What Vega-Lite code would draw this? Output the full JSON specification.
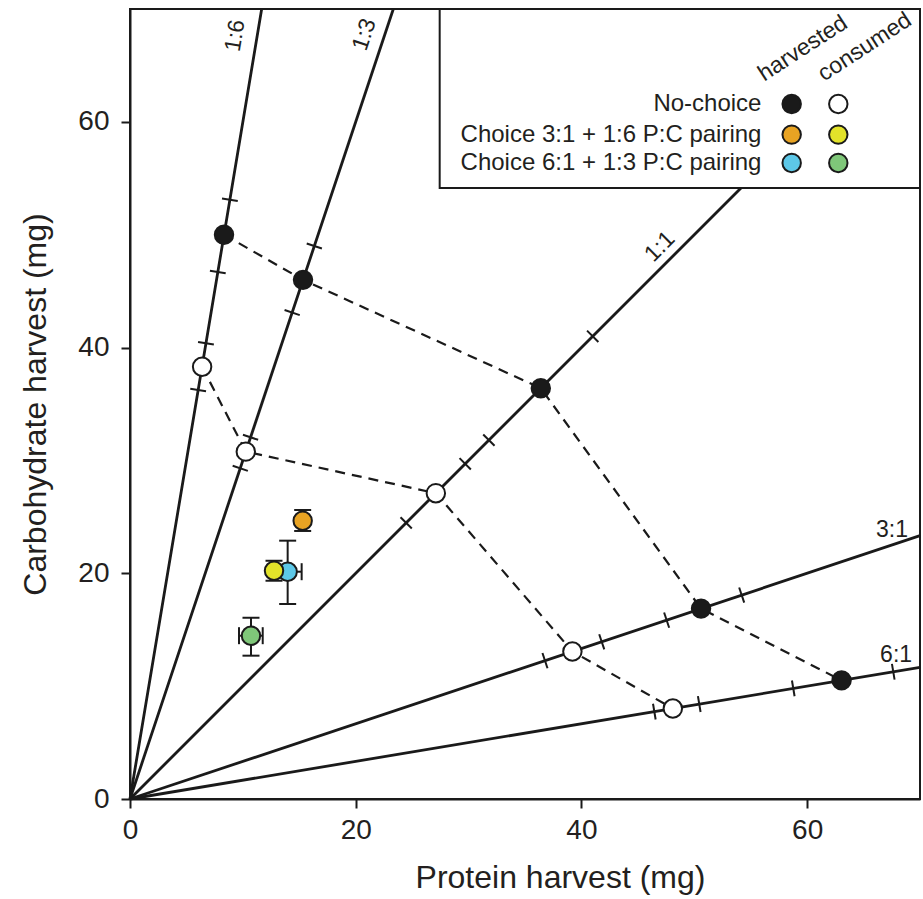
{
  "$schema": "https://vega.github.io/schema/vega-lite/v6.json",
  "width": 790,
  "height": 790,
  "autosize": {"type": "none"},
  "padding": {"left": 130, "top": 9, "right": 3, "bottom": 100},
  "background": "white",
  "config": {
    "view": {"stroke": "#1a1a1a", "strokeWidth": 2},
    "font": "Liberation Sans",
    "axis": {
      "grid": false,
      "tickCount": 4,
      "domainColor": "#1a1a1a",
      "domainWidth": 2,
      "tickColor": "#1a1a1a",
      "tickWidth": 2,
      "tickSize": 9,
      "labelFont": "Liberation Sans",
      "labelFontSize": 28,
      "labelColor": "#231f20",
      "labelFlush": false,
      "labelOverlap": false,
      "titleFont": "Liberation Sans",
      "titleFontSize": 32,
      "titleFontWeight": "normal",
      "titleColor": "#231f20"
    },
    "axisX": {"labelPadding": 8, "titlePadding": 18, "titleX": 430},
    "axisY": {"labelPadding": 12, "titlePadding": 25}
  },
  "datasets": {
    "lines": [
      {"line": "1:6", "x0": 0, "y0": 0, "x1": 11.667, "y1": 70},
      {"line": "1:3", "x0": 0, "y0": 0, "x1": 23.333, "y1": 70},
      {"line": "1:1", "x0": 0, "y0": 0, "x1": 70, "y1": 70},
      {"line": "3:1", "x0": 0, "y0": 0, "x1": 70, "y1": 23.333},
      {"line": "6:1", "x0": 0, "y0": 0, "x1": 70, "y1": 11.667}
    ],
    "main": [
      {"series": "NC-h", "kind": "harvested", "line": "1:6", "seq": 1, "P": 8.33, "C": 50.0, "Plo": 7.78, "Clo": 46.7, "Phi": 8.85, "Chi": 53.1},
      {"series": "NC-h", "kind": "harvested", "line": "1:3", "seq": 2, "P": 15.33, "C": 46.0, "Plo": 14.37, "Clo": 43.1, "Phi": 16.33, "Chi": 49.0},
      {"series": "NC-h", "kind": "harvested", "line": "1:1", "seq": 3, "P": 36.4, "C": 36.4, "Plo": 31.8, "Clo": 31.8, "Phi": 41.0, "Chi": 41.0},
      {"series": "NC-h", "kind": "harvested", "line": "3:1", "seq": 4, "P": 50.6, "C": 16.87, "Plo": 47.55, "Clo": 15.85, "Phi": 54.2, "Chi": 18.07},
      {"series": "NC-h", "kind": "harvested", "line": "6:1", "seq": 5, "P": 63.05, "C": 10.51, "Plo": 58.77, "Clo": 9.8, "Phi": 67.63, "Chi": 11.27},
      {"series": "NC-c", "kind": "consumed", "line": "1:6", "seq": 1, "P": 6.39, "C": 38.3, "Plo": 6.04, "Clo": 36.24, "Phi": 6.73, "Chi": 40.38},
      {"series": "NC-c", "kind": "consumed", "line": "1:3", "seq": 2, "P": 10.26, "C": 30.78, "Plo": 9.77, "Clo": 29.3, "Phi": 10.68, "Chi": 32.05},
      {"series": "NC-c", "kind": "consumed", "line": "1:1", "seq": 3, "P": 27.1, "C": 27.1, "Plo": 24.47, "Clo": 24.47, "Phi": 29.7, "Chi": 29.7},
      {"series": "NC-c", "kind": "consumed", "line": "3:1", "seq": 4, "P": 39.2, "C": 13.07, "Plo": 36.77, "Clo": 12.26, "Phi": 41.8, "Chi": 13.93},
      {"series": "NC-c", "kind": "consumed", "line": "6:1", "seq": 5, "P": 48.1, "C": 8.02, "Plo": 46.46, "Clo": 7.74, "Phi": 50.44, "Chi": 8.41}
    ],
    "choice": [
      {"series": "C31-h", "P": 15.3, "C": 24.66, "Clo": 23.75, "Chi": 25.61, "Plo": null, "Phi": null},
      {"series": "C61-h", "P": 13.97, "C": 20.14, "Clo": 17.28, "Chi": 22.89, "Plo": 12.73, "Phi": 15.21},
      {"series": "C31-c", "P": 12.76, "C": 20.23, "Clo": 19.34, "Chi": 21.11, "Plo": null, "Phi": null},
      {"series": "C61-c", "P": 10.72, "C": 14.47, "Clo": 12.7, "Chi": 16.06, "Plo": 9.66, "Phi": 11.76}
    ],
    "ratioLabels": [
      {"lbl": "1:6", "lx": 9.32, "ly": 67.64},
      {"lbl": "1:3", "lx": 20.76, "ly": 67.73},
      {"lbl": "1:1", "lx": 46.94, "ly": 48.94},
      {"lbl": "3:1", "lx": 67.52, "ly": 23.85},
      {"lbl": "6:1", "lx": 67.88, "ly": 12.77}
    ],
    "legendBox": [{"bx": 27.44, "bx2": 70, "by": 54.14, "by2": 70}],
    "legendText": [
      {"label": "No-choice", "lx": 55.95, "ly": 61.58},
      {"label": "Choice 3:1 + 1:6 P:C pairing", "lx": 55.95, "ly": 58.87},
      {"label": "Choice 6:1 + 1:3 P:C pairing", "lx": 55.95, "ly": 56.36}
    ],
    "legendPts": [
      {"series": "NC-h", "lx": 58.63, "ly": 61.58},
      {"series": "NC-c", "lx": 62.76, "ly": 61.58},
      {"series": "C31-h", "lx": 58.63, "ly": 58.87},
      {"series": "C31-c", "lx": 62.76, "ly": 58.87},
      {"series": "C61-h", "lx": 58.63, "ly": 56.36},
      {"series": "C61-c", "lx": 62.76, "ly": 56.36}
    ],
    "legendHead": [
      {"head": "harvested", "lx": 56.2, "ly": 63.56},
      {"head": "consumed", "lx": 61.5, "ly": 63.56}
    ]
  },
  "layer": [
    {
      "data": {"name": "lines"},
      "mark": {"type": "rule", "color": "#1a1a1a", "strokeWidth": 2.8},
      "encoding": {
        "x": {"field": "x0", "type": "quantitative", "scale": {"domain": [0, 70], "nice": false, "zero": true}, "title": "Protein harvest (mg)"},
        "y": {"field": "y0", "type": "quantitative", "scale": {"domain": [0, 70], "nice": false, "zero": true}, "title": "Carbohydrate harvest (mg)"},
        "x2": {"field": "x1"},
        "y2": {"field": "y1"}
      }
    },
    {
      "data": {"name": "main"},
      "mark": {"type": "line", "color": "#1a1a1a", "strokeWidth": 2.2, "strokeDash": [10, 7]},
      "encoding": {
        "x": {"field": "P", "type": "quantitative", "title": "Protein harvest (mg)"},
        "y": {"field": "C", "type": "quantitative", "title": "Carbohydrate harvest (mg)"},
        "detail": {"field": "kind"},
        "order": {"field": "seq", "type": "quantitative"}
      }
    },
    {
      "data": {"name": "main"},
      "mark": {"type": "point", "size": 256, "filled": false, "stroke": "#1a1a1a", "strokeWidth": 2, "opacity": 1},
      "encoding": {
        "x": {"field": "Plo", "type": "quantitative", "title": "Protein harvest (mg)"},
        "y": {"field": "Clo", "type": "quantitative", "title": "Carbohydrate harvest (mg)"},
        "shape": {"field": "line", "type": "nominal", "legend": null, "scale": {"domain": ["1:6", "1:3", "1:1", "3:1", "6:1"], "range": ["M-0.986,-0.164L0.986,0.164", "M-0.949,-0.316L0.949,0.316", "M-0.707,-0.707L0.707,0.707", "M-0.316,-0.949L0.316,0.949", "M-0.164,-0.986L0.164,0.986"]}}
      }
    },
    {
      "data": {"name": "main"},
      "mark": {"type": "point", "size": 256, "filled": false, "stroke": "#1a1a1a", "strokeWidth": 2, "opacity": 1},
      "encoding": {
        "x": {"field": "Phi", "type": "quantitative", "title": "Protein harvest (mg)"},
        "y": {"field": "Chi", "type": "quantitative", "title": "Carbohydrate harvest (mg)"},
        "shape": {"field": "line", "type": "nominal", "legend": null}
      }
    },
    {
      "data": {"name": "legendBox"},
      "mark": {"type": "rect", "fill": "white", "stroke": "#1a1a1a", "strokeWidth": 2},
      "encoding": {
        "x": {"field": "bx", "type": "quantitative", "title": "Protein harvest (mg)"},
        "x2": {"field": "bx2"},
        "y": {"field": "by", "type": "quantitative", "title": "Carbohydrate harvest (mg)"},
        "y2": {"field": "by2"}
      }
    },
    {
      "data": {"name": "choice"},
      "mark": {"type": "rule", "color": "#1a1a1a", "strokeWidth": 2},
      "encoding": {
        "x": {"field": "P", "type": "quantitative", "title": "Protein harvest (mg)"},
        "y": {"field": "Clo", "type": "quantitative", "title": "Carbohydrate harvest (mg)"},
        "y2": {"field": "Chi"}
      }
    },
    {
      "data": {"name": "choice"},
      "mark": {"type": "rule", "color": "#1a1a1a", "strokeWidth": 2},
      "encoding": {
        "x": {"field": "Plo", "type": "quantitative", "title": "Protein harvest (mg)"},
        "x2": {"field": "Phi"},
        "y": {"field": "C", "type": "quantitative", "title": "Carbohydrate harvest (mg)"}
      }
    },
    {
      "data": {"name": "choice"},
      "mark": {"type": "point", "shape": "M-1,0L1,0", "size": 289, "filled": false, "stroke": "#1a1a1a", "strokeWidth": 2, "opacity": 1},
      "encoding": {
        "x": {"field": "P", "type": "quantitative", "title": "Protein harvest (mg)"},
        "y": {"field": "Clo", "type": "quantitative", "title": "Carbohydrate harvest (mg)"}
      }
    },
    {
      "data": {"name": "choice"},
      "mark": {"type": "point", "shape": "M-1,0L1,0", "size": 289, "filled": false, "stroke": "#1a1a1a", "strokeWidth": 2, "opacity": 1},
      "encoding": {
        "x": {"field": "P", "type": "quantitative", "title": "Protein harvest (mg)"},
        "y": {"field": "Chi", "type": "quantitative", "title": "Carbohydrate harvest (mg)"}
      }
    },
    {
      "data": {"name": "choice"},
      "mark": {"type": "point", "shape": "M0,-1L0,1", "size": 289, "filled": false, "stroke": "#1a1a1a", "strokeWidth": 2, "opacity": 1},
      "encoding": {
        "x": {"field": "Plo", "type": "quantitative", "title": "Protein harvest (mg)"},
        "y": {"field": "C", "type": "quantitative", "title": "Carbohydrate harvest (mg)"}
      }
    },
    {
      "data": {"name": "choice"},
      "mark": {"type": "point", "shape": "M0,-1L0,1", "size": 289, "filled": false, "stroke": "#1a1a1a", "strokeWidth": 2, "opacity": 1},
      "encoding": {
        "x": {"field": "Phi", "type": "quantitative", "title": "Protein harvest (mg)"},
        "y": {"field": "C", "type": "quantitative", "title": "Carbohydrate harvest (mg)"}
      }
    },
    {
      "data": {"name": "main"},
      "mark": {"type": "circle", "size": 340, "stroke": "#1a1a1a", "strokeWidth": 2, "opacity": 1},
      "encoding": {
        "x": {"field": "P", "type": "quantitative", "title": "Protein harvest (mg)"},
        "y": {"field": "C", "type": "quantitative", "title": "Carbohydrate harvest (mg)"},
        "fill": {"field": "series", "type": "nominal", "legend": null, "scale": {"domain": ["NC-h", "NC-c", "C31-h", "C31-c", "C61-h", "C61-c"], "range": ["#1a1a1a", "#ffffff", "#E8A323", "#E3E32A", "#5DC8E8", "#7FC779"]}}
      }
    },
    {
      "data": {"name": "choice"},
      "mark": {"type": "circle", "size": 340, "stroke": "#1a1a1a", "strokeWidth": 2, "opacity": 1},
      "encoding": {
        "x": {"field": "P", "type": "quantitative", "title": "Protein harvest (mg)"},
        "y": {"field": "C", "type": "quantitative", "title": "Carbohydrate harvest (mg)"},
        "fill": {"field": "series", "type": "nominal", "legend": null}
      }
    },
    {
      "data": {"name": "ratioLabels"},
      "transform": [{"filter": "datum.lbl == '1:6'"}],
      "mark": {"type": "text", "font": "Liberation Sans", "fontSize": 23, "color": "#231f20", "align": "center", "baseline": "middle", "angle": 279.5},
      "encoding": {
        "x": {"field": "lx", "type": "quantitative", "title": "Protein harvest (mg)"},
        "y": {"field": "ly", "type": "quantitative", "title": "Carbohydrate harvest (mg)"},
        "text": {"field": "lbl"}
      }
    },
    {
      "data": {"name": "ratioLabels"},
      "transform": [{"filter": "datum.lbl == '1:3'"}],
      "mark": {"type": "text", "font": "Liberation Sans", "fontSize": 23, "color": "#231f20", "align": "center", "baseline": "middle", "angle": 288.4},
      "encoding": {
        "x": {"field": "lx", "type": "quantitative", "title": "Protein harvest (mg)"},
        "y": {"field": "ly", "type": "quantitative", "title": "Carbohydrate harvest (mg)"},
        "text": {"field": "lbl"}
      }
    },
    {
      "data": {"name": "ratioLabels"},
      "transform": [{"filter": "datum.lbl == '1:1'"}],
      "mark": {"type": "text", "font": "Liberation Sans", "fontSize": 23, "color": "#231f20", "align": "center", "baseline": "middle", "angle": 315},
      "encoding": {
        "x": {"field": "lx", "type": "quantitative", "title": "Protein harvest (mg)"},
        "y": {"field": "ly", "type": "quantitative", "title": "Carbohydrate harvest (mg)"},
        "text": {"field": "lbl"}
      }
    },
    {
      "data": {"name": "ratioLabels"},
      "transform": [{"filter": "datum.lbl == '3:1' || datum.lbl == '6:1'"}],
      "mark": {"type": "text", "font": "Liberation Sans", "fontSize": 23, "color": "#231f20", "align": "center", "baseline": "middle", "angle": 0},
      "encoding": {
        "x": {"field": "lx", "type": "quantitative", "title": "Protein harvest (mg)"},
        "y": {"field": "ly", "type": "quantitative", "title": "Carbohydrate harvest (mg)"},
        "text": {"field": "lbl"}
      }
    },
    {
      "data": {"name": "legendText"},
      "mark": {"type": "text", "font": "Liberation Sans", "fontSize": 24, "color": "#231f20", "align": "right", "baseline": "middle"},
      "encoding": {
        "x": {"field": "lx", "type": "quantitative", "title": "Protein harvest (mg)"},
        "y": {"field": "ly", "type": "quantitative", "title": "Carbohydrate harvest (mg)"},
        "text": {"field": "label"}
      }
    },
    {
      "data": {"name": "legendPts"},
      "mark": {"type": "circle", "size": 340, "stroke": "#1a1a1a", "strokeWidth": 2, "opacity": 1},
      "encoding": {
        "x": {"field": "lx", "type": "quantitative", "title": "Protein harvest (mg)"},
        "y": {"field": "ly", "type": "quantitative", "title": "Carbohydrate harvest (mg)"},
        "fill": {"field": "series", "type": "nominal", "legend": null}
      }
    },
    {
      "data": {"name": "legendHead"},
      "mark": {"type": "text", "font": "Liberation Sans", "fontSize": 23, "color": "#231f20", "align": "left", "baseline": "alphabetic", "angle": 327},
      "encoding": {
        "x": {"field": "lx", "type": "quantitative", "title": "Protein harvest (mg)"},
        "y": {"field": "ly", "type": "quantitative", "title": "Carbohydrate harvest (mg)"},
        "text": {"field": "head"}
      }
    }
  ]
}
